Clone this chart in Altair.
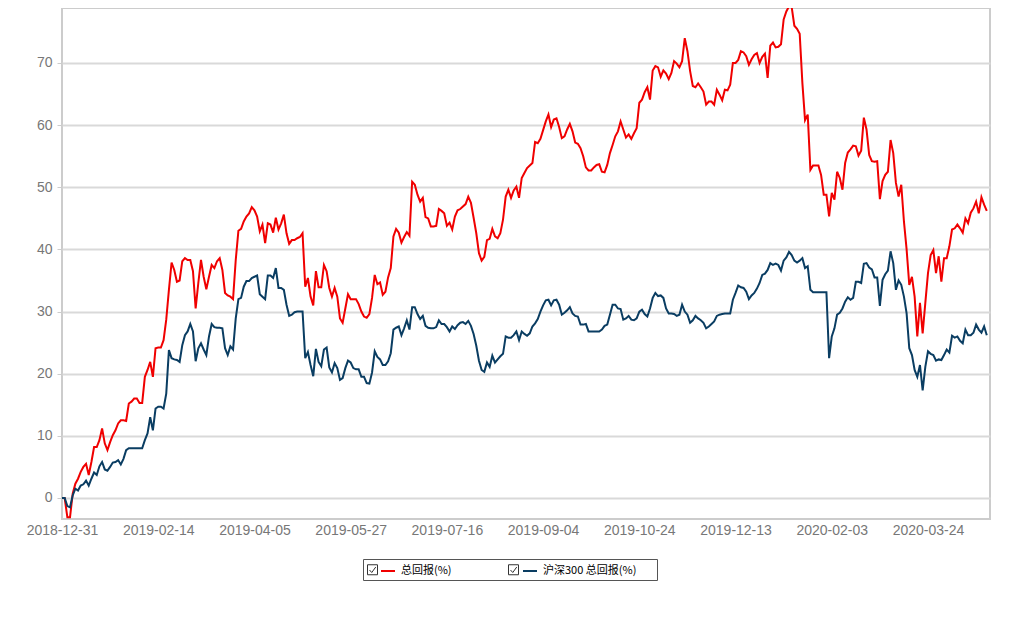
import altair as alt
import pandas as pd

series_names = ["总回报(%)", "沪深300 总回报(%)"]
series_colors = ["#f00000", "#0a3d62"]

total_return = [
    0, 0, -3.1, -3.1, 0.7, 2.3, 3.1, 4.2, 5.0, 5.5,
    3.7, 5.8, 8.2, 8.2, 9.3, 11.2, 8.8, 7.7, 9.0, 10.1,
    10.9, 12.0, 12.5, 12.5, 12.4, 15.2, 15.5, 16.0, 16.0, 15.3,
    15.3, 19.5, 20.6, 21.9, 19.5, 24.1, 24.2, 24.2, 25.4, 28.7,
    33.5, 37.9, 36.7, 34.8, 35.0, 38.1, 38.6, 38.3, 38.3, 36.5,
    30.5, 34.6, 38.3, 35.6, 33.6, 35.6, 37.5, 37.0, 38.1, 38.6,
    36.7, 33.0, 32.6, 32.4, 32.0, 38.3, 43.0, 43.3, 44.5, 45.3,
    45.8, 46.8, 46.3, 45.3, 42.9, 44.0, 41.0, 44.2, 44.0, 42.7,
    45.1, 43.2, 44.2, 45.6, 42.6, 40.9, 41.5, 41.5, 41.8, 42.0,
    42.6, 34.0, 35.4, 32.4, 31.0, 36.5, 33.9, 33.9, 37.5, 36.5,
    33.8, 32.4, 33.8, 32.4, 28.9, 28.2, 30.5, 32.8, 32.0, 32.0,
    32.0, 31.2, 30.0, 29.2, 29.0, 29.6, 32.2, 35.9, 34.4, 34.7,
    32.7, 33.2, 35.5, 37.0, 42.1, 43.3, 42.7, 41.1, 42.0, 42.8,
    42.2, 50.9, 50.4, 48.8, 47.7, 48.3, 45.2, 45.0, 43.7, 43.7,
    43.8, 46.5, 46.2, 45.8, 43.8, 44.3, 43.2, 45.3, 46.3, 46.5,
    46.9, 47.3, 48.5, 47.5, 45.1, 42.6, 39.4, 38.2, 38.8, 41.5,
    41.7, 43.3, 42.1, 41.8, 42.6, 44.8, 48.5, 49.6, 48.3, 49.5,
    50.1, 48.3, 51.5, 52.3, 53.1, 53.5, 53.9, 57.3, 57.1, 57.8,
    59.2, 60.6, 61.7, 59.7, 60.9, 61.1, 59.7, 57.9, 58.2, 59.3,
    60.2, 59.0, 57.2, 57.0, 56.3, 55.0, 53.2, 52.7, 52.7, 53.2,
    53.6, 53.7, 52.5, 52.4, 53.6, 55.5, 56.8, 58.2, 59.0, 60.6,
    59.3, 58.0, 58.5, 57.8, 58.7, 59.5, 63.6, 64.1, 65.3, 66.1,
    64.1, 68.8, 69.5, 69.3, 67.8, 68.8, 68.3, 67.4, 68.4, 70.3,
    69.9, 69.3, 70.3, 74.0, 71.9, 68.7, 66.3, 66.1, 66.7, 66.1,
    65.4, 63.3, 63.8, 63.8, 63.3, 65.7, 64.9, 64.0, 65.7, 65.6,
    66.5, 70.0, 70.0, 70.5, 71.9, 71.7, 71.1, 69.7, 70.6, 71.3,
    71.6, 70.0, 71.0, 71.5, 67.6, 72.8, 73.3, 72.5, 72.6, 73.0,
    77.0, 78.3, 79.1, 79.0, 76.0, 75.5, 74.7, 66.8, 60.8, 61.7,
    52.8, 53.5, 53.5, 53.5, 52.0, 48.8, 48.8, 45.3, 49.1, 48.0,
    52.5, 51.5, 49.6, 53.9, 55.6, 56.1, 56.7, 56.6, 55.1, 55.9,
    61.2, 59.3, 55.2, 54.2, 54.1, 54.2, 48.1, 51.0, 52.0, 52.5,
    57.6, 55.5, 50.7, 48.5, 50.4, 44.5, 40.0, 34.3, 35.6, 32.4,
    26.0, 31.4, 26.5, 31.4, 36.2, 39.1, 39.9, 36.2, 38.9, 34.8,
    38.6, 38.6, 40.5, 43.2, 43.4, 44.0, 43.4, 42.7, 45.0, 44.2,
    45.9, 46.6, 47.7, 45.8, 48.4, 47.2, 46.2,
]

hs300_return = [
    0, 0, -1.3, -1.5, 0.4, 1.5, 1.2, 2.0, 2.2, 2.8,
    2.0, 3.1, 4.1, 3.7, 5.1, 5.8, 4.6, 4.4, 5.0, 5.7,
    5.8, 6.1, 5.4, 6.3, 7.7, 8.0, 8.0, 8.0, 8.0, 8.0,
    8.0, 9.3, 10.4, 13.0, 10.9, 14.4, 14.7, 14.7, 14.4, 16.8,
    23.8, 22.5, 22.3, 22.2, 21.9, 24.6, 26.2, 26.8, 28.0, 26.8,
    22.0, 24.1, 24.9, 23.9, 23.0, 26.0, 28.0, 27.5, 27.4, 27.4,
    27.3, 24.1, 23.0, 24.4, 23.9, 28.9, 32.0, 32.2, 34.0, 34.9,
    34.9, 35.4, 35.6, 35.8, 32.8, 32.4, 32.0, 35.8, 35.8, 35.4,
    37.0, 33.8, 33.8, 33.5, 31.1, 29.3, 29.5, 29.9, 30.0, 30.0,
    30.0, 22.5, 23.5, 21.4, 19.6, 24.0, 21.9, 21.2, 23.9, 24.2,
    21.0, 20.2, 21.7, 20.9, 19.0, 19.3, 20.9, 22.1, 21.8, 20.9,
    20.7, 20.7, 19.5, 19.5, 18.5, 18.4, 20.2, 23.6, 22.7, 22.3,
    21.4, 21.4, 22.0, 23.3, 27.1, 27.4, 27.6, 26.2, 27.3, 28.6,
    27.1, 30.7, 30.7, 29.6, 28.8, 29.3, 27.7, 27.4, 27.3, 27.3,
    27.5, 28.6, 28.0, 28.0, 27.5, 26.8, 27.6, 27.2, 27.8, 28.2,
    28.3, 28.0, 28.5, 27.7, 26.4, 24.5, 22.1, 20.6, 20.3, 21.8,
    21.1, 22.9, 21.8, 22.3, 22.8, 23.2, 26.0, 25.8, 25.8, 26.2,
    26.8, 25.4, 26.8, 26.4, 26.1, 26.5, 27.6, 28.1, 28.8, 30.0,
    31.0, 31.8, 31.9, 31.0, 31.8, 31.9, 31.1, 29.5, 29.8, 30.2,
    30.7, 29.7, 29.3, 29.2, 27.9, 27.9, 28.0, 26.8, 26.8, 26.8,
    26.8, 26.8, 27.1, 27.7, 27.9, 29.5, 31.1, 31.1, 30.5, 30.4,
    28.7, 28.9, 29.3, 28.7, 28.6, 28.9, 30.0, 30.3, 29.6, 29.2,
    30.5, 32.2, 33.0, 32.5, 32.6, 32.2, 30.5, 29.7, 29.7, 29.6,
    29.3, 29.5, 31.1, 30.0, 29.5, 28.2, 28.6, 29.3, 28.9, 28.6,
    28.2, 27.3, 27.6, 28.0, 28.4, 29.3, 29.5, 29.6, 29.7, 29.7,
    29.7, 31.9, 33.0, 34.2, 33.9, 33.8, 33.2, 32.0, 32.6, 33.0,
    33.7, 34.6, 35.9, 36.1, 36.7, 37.8, 37.5, 37.7, 37.5, 36.6,
    38.2, 38.7, 39.6, 39.1, 38.2, 37.9, 38.2, 38.6, 37.0, 37.3,
    33.5, 33.1, 33.1, 33.1, 33.1, 33.1, 33.1, 22.5, 26.0, 27.3,
    29.5, 29.8, 30.5, 31.6, 32.3, 31.9, 32.2, 34.8, 34.8, 34.6,
    37.7, 37.8, 37.1, 36.8, 35.5, 35.5, 30.9, 35.1, 36.0, 36.6,
    39.7, 37.8, 33.5, 35.0, 34.3, 32.4, 29.7, 24.1, 23.0, 20.6,
    19.5, 21.4, 17.3, 21.1, 23.6, 23.2, 23.0, 22.1, 22.3, 22.2,
    23.0, 23.9, 23.4, 26.1, 25.8, 26.0, 25.3, 24.9, 27.1, 26.2,
    26.2, 26.6, 27.9, 27.1, 26.6, 27.6, 26.2,
]

tick_labels = ["2018-12-31", "2019-02-14", "2019-04-05", "2019-05-27", "2019-07-16",
               "2019-09-04", "2019-10-24", "2019-12-13", "2020-02-03", "2020-03-24"]
tick_step = 36
tick_positions = [k * tick_step for k in range(len(tick_labels))]
y_ticks = [0, 10, 20, 30, 40, 50, 60, 70]
box_keys = ["box0", "box1"]

rows = []
for k, (name, vals) in enumerate(zip(series_names, [total_return, hs300_return])):
    for i, v in enumerate(vals):
        rows.append({"idx": i, "value": v, "series": name, "box": box_keys[k]})
df = pd.DataFrame(rows)

label_js = "[" + ",".join("'%s'" % s for s in tick_labels) + "]"

x_enc = alt.X(
    "idx:Q",
    scale=alt.Scale(domain=[0, 347.2], nice=False, zero=False),
    axis=alt.Axis(
        values=tick_positions,
        labelExpr=label_js + "[round(datum.value / %d)]" % tick_step,
        title=None, grid=False, ticks=False, domain=False,
        labelFlush=False, labelOverlap=False, labelPadding=4,
        labelFontSize=14, labelColor="#777777", labelFont="Liberation Sans",
    ),
)
y_enc = alt.Y(
    "value:Q",
    scale=alt.Scale(domain=[-3.38, 78.85], nice=False, zero=False),
    axis=alt.Axis(
        values=y_ticks, title=None, grid=True, gridColor="#d9d9d9", gridWidth=2,
        domain=False, tickColor="#cccccc", tickSize=5, tickWidth=1,
        labelPadding=5, labelFontSize=14, labelColor="#777777", labelFont="Liberation Sans",
    ),
)

# colour legend: framed box; symbols offset right to leave room for the checkboxes
color_legend = alt.Legend(
    orient="none", legendX=301, legendY=551, direction="horizontal", title=None,
    symbolType="stroke", symbolStrokeWidth=2, symbolSize=196, symbolOffset=13,
    labelFont="Noto Sans CJK SC", labelFontSize=11, labelColor="#000000",
    labelOffset=5, columnPadding=57,
    labelExpr="datum.index == 1 ? datum.label + '\u2800\u2800' : datum.label",
    strokeColor="#555555", padding=4,
)

checkbox_path = "M-1,-1H1V1H-1Z M-0.6,0.05 L-0.15,0.55 L0.65,-0.55"
shape_legend = alt.Legend(
    orient="none", legendX=305, legendY=556, direction="horizontal", title=None,
    symbolSize=100, symbolStrokeWidth=1, symbolStrokeColor="#333333",
    symbolFillColor="#ffffff", symbolOpacity=1,
    labelFont="DejaVu Sans", labelFontSize=11, labelExpr="'\u2800'",
    labelOffset=0, columnPadding=119,
)

lines = alt.Chart(df).mark_line(strokeWidth=2).encode(
    x=x_enc, y=y_enc,
    color=alt.Color("series:N", scale=alt.Scale(domain=series_names, range=series_colors),
                    legend=color_legend),
)

boxes = alt.Chart(df).transform_filter("datum.idx < 0").mark_point(
    color="#333333", opacity=1, filled=False, strokeWidth=1, size=100
).encode(
    x=x_enc, y=y_enc,
    shape=alt.Shape("box:N", scale=alt.Scale(domain=box_keys, range=[checkbox_path, checkbox_path]),
                    legend=shape_legend),
)

chart = alt.layer(lines, boxes).properties(
    width=928, height=511,
    padding={"left": 54, "top": 0, "right": 20, "bottom": 85},
    autosize=alt.AutoSizeParams(type="none"),
).configure_view(stroke="#cccccc", strokeWidth=2)

chart.save("out.html", embed_options={"renderer": "svg", "actions": False})
